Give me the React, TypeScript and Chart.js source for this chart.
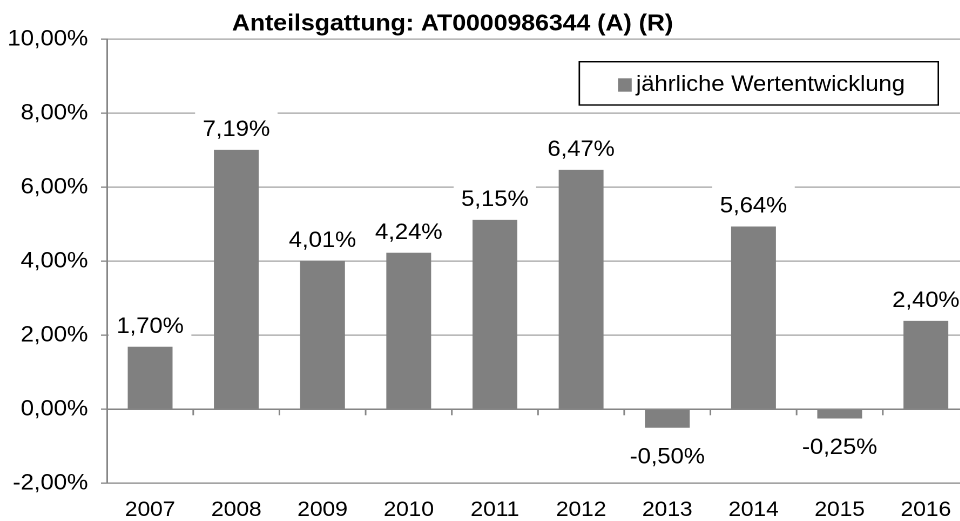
import React, { useEffect, useRef } from "react";
import { Chart, registerables } from "chart.js";

Chart.register(...registerables);

const chartTitle = "Anteilsgattung: AT0000986344 (A) (R)";
const seriesLabel = "jährliche Wertentwicklung";
const years = ["2007", "2008", "2009", "2010", "2011", "2012", "2013", "2014", "2015", "2016"];
const barValues = [1.69, 7.01, 4.01, 4.23, 5.12, 6.47, -0.5, 4.94, -0.25, 2.39];
const valueLabels = ["1,70%", "7,19%", "4,01%", "4,24%", "5,15%", "6,47%", "-0,50%", "5,64%", "-0,25%", "2,40%"];
const yTickValues = [-2, 0, 2, 4, 6, 8, 10];

const SX = 1.08;
const CW = 903;
const CH = 521;
const FONT = '"Liberation Sans", Arial, sans-serif';
const BAR = "#808080";
const GRID = "#a3a3a3";
const AXIS = "#868686";

const fmt = (v: number) => v.toFixed(2).replace(".", ",") + "%";

export default function App() {
  const ref = useRef<HTMLCanvasElement>(null);

  useEffect(() => {
    const canvas = ref.current;
    if (!canvas) return;

    const overlay = {
      id: "overlay",
      beforeDraw(chart: any) {
        const ctx = chart.ctx;
        ctx.save();
        ctx.fillStyle = "#ffffff";
        ctx.fillRect(0, 0, chart.width, chart.height);
        ctx.restore();
      },
      afterDatasetsDraw(chart: any) {
        const { ctx, chartArea } = chart;
        const xs = chart.scales.x;
        const ys = chart.scales.y;
        const y0 = ys.getPixelForValue(0);
        ctx.save();
        // zero axis line with category tick marks
        ctx.strokeStyle = AXIS;
        ctx.lineWidth = 1.5;
        ctx.beginPath();
        ctx.moveTo(chartArea.left, y0);
        ctx.lineTo(chartArea.right, y0);
        for (let i = 1; i < years.length; i++) {
          const bx = (xs.getPixelForValue(i - 1) + xs.getPixelForValue(i)) / 2;
          ctx.moveTo(bx, y0);
          ctx.lineTo(bx, y0 + 6);
        }
        ctx.stroke();

        // value labels with white background
        ctx.font = `22px ${FONT}`;
        ctx.textAlign = "center";
        ctx.textBaseline = "middle";
        const meta = chart.getDatasetMeta(0);
        meta.data.forEach((bar: any, i: number) => {
          const v = barValues[i];
          const cx = bar.x;
          const cy = v >= 0 ? bar.y - 21 : bar.y + 28.5;
          const w = ctx.measureText(valueLabels[i]).width;
          ctx.fillStyle = "#ffffff";
          ctx.fillRect(cx - w / 2 - 7, cy - 20.5, w + 14, 40);
          ctx.fillStyle = "#000000";
          ctx.fillText(valueLabels[i], cx, cy + 1);
        });
        ctx.restore();
      },
      afterDraw(chart: any) {
        const ctx = chart.ctx;
        ctx.save();
        // title
        ctx.font = `bold 23px ${FONT}`;
        ctx.textAlign = "center";
        ctx.textBaseline = "middle";
        ctx.fillStyle = "#000000";
        ctx.fillText(chartTitle, 419, 24);

        // legend
        const lx = 536.4;
        const ly = 61.7;
        const lw = 332.4;
        const lh = 43.3;
        ctx.fillStyle = "#ffffff";
        ctx.fillRect(lx, ly, lw, lh);
        ctx.strokeStyle = "#000000";
        ctx.lineWidth = 1.4;
        ctx.strokeRect(lx, ly, lw, lh);
        ctx.fillStyle = BAR;
        ctx.fillRect(572.2, 78.3, 12.7, 13.4);
        ctx.fillStyle = "#000000";
        ctx.font = `22px ${FONT}`;
        ctx.textAlign = "left";
        ctx.fillText(seriesLabel, 588.9, 85);
        ctx.restore();
      },
    };

    const chart = new Chart(canvas, {
      type: "bar",
      data: {
        labels: years,
        datasets: [
          {
            label: seriesLabel,
            data: barValues,
            backgroundColor: BAR,
            borderWidth: 0,
            barPercentage: 0.52,
            categoryPercentage: 1,
          },
        ],
      },
      options: {
        responsive: false,
        animation: false,
        devicePixelRatio: 2,
        layout: { padding: { top: 39.3, right: 5.8, left: 0, bottom: 0 } },
        plugins: {
          legend: { display: false },
          title: { display: false },
          tooltip: { enabled: false },
        },
        scales: {
          x: {
            grid: { display: false, drawTicks: false },
            border: { display: false },
            ticks: { font: { family: FONT, size: 21 }, color: "#000000", padding: 14.5 },
            afterFit: (s: any) => {
              s.height = 37.7;
            },
          },
          y: {
            min: -2,
            max: 10,
            afterBuildTicks: (s: any) => {
              s.ticks = yTickValues.map((v) => ({ value: v }));
            },
            afterFit: (s: any) => {
              s.width = 99.1;
            },
            grid: {
              color: (c: any) => (c.tick && c.tick.value === -2 ? AXIS : GRID),
              lineWidth: 1.3,
              drawTicks: true,
              tickLength: 5.6,
              tickColor: AXIS,
            },
            border: { display: true, color: AXIS, width: 1.5 },
            ticks: {
              font: { family: FONT, size: 22 },
              color: "#000000",
              padding: 12,
              callback: (v: any) => fmt(Number(v)),
            },
          },
        },
      },
      plugins: [overlay],
    });

    return () => chart.destroy();
  }, []);

  return (
    <div
      style={{
        position: "fixed",
        left: 0,
        top: 0,
        width: 960,
        height: 521,
        overflow: "hidden",
        background: "#ffffff",
      }}
    >
      <canvas
        ref={ref}
        width={CW}
        height={CH}
        style={{
          width: CW,
          height: CH,
          display: "block",
          transform: `scaleX(${SX})`,
          transformOrigin: "0 0",
        }}
      />
    </div>
  );
}
